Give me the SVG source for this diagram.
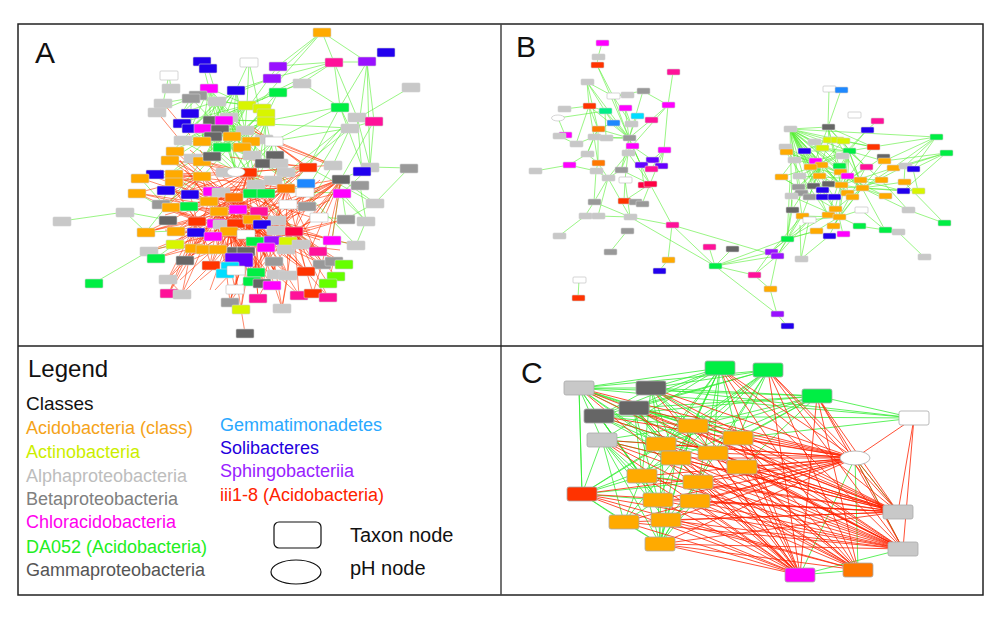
<svg xmlns="http://www.w3.org/2000/svg" xmlns:xlink="http://www.w3.org/1999/xlink" width="1000" height="621" viewBox="0 0 1000 621">
<style>
.or{fill:#FFAA00}.yl{fill:#D8F500}.lg{fill:#C8C8C8}.gy{fill:#999}.mg{fill:#FF00FF}.pk{fill:#FF1199}.gn{fill:#00EE44}.dg{fill:#666}.az{fill:#1E88FF}.cy{fill:#00DDFF}.bl{fill:#2200EE}.pu{fill:#9911FF}.rd{fill:#FF3300}.rs{fill:#FF0044}.do{fill:#FF7700}.lm{fill:#66FF00}.wh{fill:#fff}.tl{fill:#00EE88}.vi{fill:#6600FF}
.nd use,.nd ellipse{stroke:#d2d2d2;stroke-width:.6}
.c use,.c ellipse{stroke:#aaa;stroke-width:.8}
.nd .wh use,.nd .wh ellipse{stroke:#bbb}
.eg{fill:none;stroke:#55EE33;stroke-width:.6}
.er{fill:none;stroke:#FF3300;stroke-width:.65;stroke-opacity:.9}
.ecg{fill:none;stroke:#33EE33;stroke-width:.8}
.ecr{fill:none;stroke:#FF2200;stroke-width:.8}
text{font-family:"Liberation Sans",Arial,sans-serif}
.lt{font-size:18px}
.pl{font-size:30px;fill:#111}
</style>
<defs>
<rect id="na" width="18" height="9" rx="1"/>
<rect id="nb" width="13" height="6" rx="1"/>
<rect id="nc" width="30" height="14" rx="2"/>
</defs>
<rect x="0" y="0" width="1000" height="621" fill="#fff"/>

<g id="connectors">
<path class="eg" d="M322 32L278 66M322 32L272 78M322 32L334 62M322 32L367 62M322 32L262 100M334 62L367 62M334 62L340 107M334 62L302 83M334 62L278 66M334 62L272 78M334 62L247 105M334 62L357 117M367 62L340 107M367 62L360 117M367 62L374 121M367 62L370 167M411 87L360 117M340 107L302 83M340 107L350 128M340 107L274 141M340 107L266 121M340 107L362 167M340 107L308 167M357 117L370 167M357 117L362 171M374 121L350 128M374 121L341 179M374 121L370 167M350 128L333 165M350 128L274 141M350 128L266 124M345 126L290 170M348 130L295 172M370 167L409 168M370 167L341 179M370 167L342 193M409 168L375 203M341 179L319 217M342 193L346 219M360 185L366 221M341 179L332 240M333 165L307 206M305 192L356 245M375 203L346 219M333 189L366 221M308 167L366 199M305 192L342 193M319 217L346 219M342 193L366 221M356 245L366 221M341 179L375 203M332 240L356 245M302 83L278 92M302 83L247 105M249 62L236 90M249 62L247 105M249 62L262 121M278 66L250 105M272 78L217 101M272 78L236 90M278 92L266 117M278 92L250 105M278 92L245 130M169 75L171 88M169 75L163 103M202 61L209 88M208 68L215 90M62 221L125 212M125 212L168 220M125 212L146 232M94 283L149 251M149 251L175 244M156 258L175 244M137 193L161 207M140 178L166 207M131 178L170 174M146 232L176 231M161 207L170 182M245 130L209 88M245 130L236 90M245 130L217 101M245 130L247 105M245 130L262 113M245 130L266 121M245 130L229 120M245 130L212 120M245 130L220 129M245 130L202 136M245 130L232 136M245 130L251 141M245 130L222 147M245 130L242 147M245 130L252 155M245 130L274 141M245 130L264 163M245 130L212 157M245 130L183 141M245 130L175 124M247 105L209 88M247 105L217 101M247 105L229 120M247 105L212 120M247 105L220 129M247 105L232 136M247 105L222 147M247 105L202 136M247 105L183 141M247 105L194 128M247 105L175 124M247 105L191 98M209 88L229 117M209 88L232 136M209 88L222 147M209 88L182 113M209 88L191 128M209 88L203 128M209 88L212 157M217 101L182 113M217 101L191 128M217 101L220 129M217 101L202 136M217 101L242 147M217 101L252 155M217 101L174 150M236 90L212 120M236 90L220 129M236 90L202 136M236 90L232 136M236 90L242 147M236 90L191 128M266 121L229 120M266 121L232 136M266 121L222 147M266 121L242 147M266 121L252 155M266 121L264 163M266 121L212 120M266 121L245 172M266 121L279 180M191 98L163 103M191 98L157 112M191 98L182 113M191 98L191 128M191 98L212 120M229 120L212 157M229 120L236 172M229 120L252 155M229 120L264 163M229 120L202 161M229 120L183 141M274 141L236 172M274 141L248 172M274 141L264 163M274 141L256 184M274 141L286 188M274 141L222 147M220 129L202 161M220 129L174 150M220 129L183 141M220 129L170 160M220 129L212 157M220 129L236 172M256 184L229 120M256 184L245 130M256 184L220 129M256 184L266 121M256 184L212 120M256 184L202 136M236 172L209 88M236 172L217 101M236 172L262 113M236 172L183 141M236 172L191 128M212 157L262 113M212 157L266 121M202 161L247 105M264 163L202 136M264 163L191 128M283 177L232 136M283 177L212 120M300 192L229 120M300 192L252 155M170 174L245 130M170 174L229 120M166 207L212 157M146 232L202 161M190 190L245 130M212 222L256 184M318 251L264 200M305 192L343 130M296 180L341 128"/>
<path class="er" d="M248 172L170 160M248 172L202 161M248 172L170 174M248 172L202 176M248 172L190 190M248 172L212 191M248 172L220 192M248 172L256 184M248 172L273 180M248 172L286 188M248 172L234 197M248 172L219 211M248 172L238 209M248 172L259 211M248 172L277 220M248 172L197 221M248 172L236 223M248 172L252 219M248 172L229 231M248 172L294 231M248 172L273 241M248 172L246 250M248 172L212 222M248 172L308 167M248 172L333 165M234 197L166 207M234 197L170 174M234 197L189 206M234 197L197 221M234 197L176 231M234 197L196 232M234 197L213 236M234 197L246 250M234 197L236 251M234 197L266 247M234 197L273 241M234 197L286 241M234 197L301 244M234 197L318 251M234 197L276 230M234 197L294 231M234 197L234 260M234 197L225 266M234 197L211 265M234 197L185 260M234 197L256 272M234 197L264 283M234 197L276 274M234 197L230 270M219 211L146 232M219 211L137 193M219 211L161 207M219 211L175 244M219 211L194 248M219 211L218 249M219 211L236 251M219 211L256 241M219 211L273 241M219 211L294 231M219 211L306 271M219 211L288 275M219 211L256 272M219 211L262 287M219 211L272 285M219 211L235 289M219 211L230 302M219 211L210 266M219 211L185 260M219 211L168 279M219 211L169 293M219 211L182 294M294 231L236 172M294 231L252 193M294 231L266 193M294 231L305 192M294 231L307 206M294 231L319 217M294 231L346 219M294 231L332 240M294 231L356 245M294 231L318 251M294 231L322 264M294 231L334 261M294 231L344 264M294 231L336 276M294 231L328 283M294 231L313 293M294 231L328 297M294 231L299 295M294 231L258 298M294 231L282 308M294 231L246 250M294 231L236 251M294 231L256 272M341 179L290 205M341 179L280 220M341 179L260 210M341 179L300 230M341 179L252 219M341 179L270 230M341 179L245 240M341 179L290 250M341 179L310 250M341 179L286 188M341 179L305 192M341 179L307 206M341 179L319 217M341 179L332 240M341 179L322 264M341 179L276 230M308 167L253 130M308 167L270 140M308 167L230 157M308 167L264 163M308 167L286 172M308 167L279 180M308 167L264 200M308 167L252 219M333 165L270 140M333 165L255 132M197 221L146 232M197 221L176 231M197 221L175 244M197 221L194 248M197 221L209 250M197 221L185 260M197 221L168 279M197 221L182 294M197 221L169 293M197 221L211 265M197 221L160 207M197 221L137 193M197 221L170 182M197 221L174 190M197 221L190 194M252 219L213 236M252 219L236 251M252 219L266 247M252 219L255 241M252 219L288 249M252 219L301 244M252 219L318 251M252 219L230 270M252 219L225 266M252 219L256 272M252 219L262 287M252 219L276 274M252 219L288 275M252 219L306 271M252 219L258 298M252 219L241 309M252 219L235 289M252 219L230 302M252 219L282 308M252 219L299 295M229 231L166 207M229 231L156 258M229 231L149 251M229 231L176 231M229 231L185 260M229 231L211 265M229 231L225 266M229 231L234 260M229 231L256 272M229 231L252 281M229 231L262 287M229 231L241 309M202 176L170 160M202 176L174 150M202 176L170 174M202 176L140 178M202 176L137 193M202 176L174 190M202 176L166 207M202 176L161 207M202 176L190 194M202 176L212 191M202 176L209 201M209 201L170 182M209 201L140 178M209 201L161 207M209 201L146 232M209 201L166 207M209 201L194 248M209 201L218 249M209 201L176 231M241 309L245 333M169 293L185 260M182 294L211 265M182 294L168 279M282 308L288 275M282 308L274 261M328 297L306 271M299 295L276 274M313 293L322 264M258 298L256 272M328 283L334 261M149 251L196 232M156 258L194 248M175 158L300 250M160 170L320 220M180 150L290 260M200 150L280 280M265 141L330 165M253 127L300 163M290 205L350 190M300 230L345 181M175 200L305 250M185 170L270 275M157 112L180 140M163 103L190 135M286 188L202 161M286 188L170 174M286 188L190 190M286 188L212 191M286 188L219 211M286 188L238 209M286 188L259 211M286 188L277 220M286 188L197 221M286 188L236 223M286 188L229 231M286 188L273 241M286 188L246 250M286 188L256 272M286 188L236 251M286 188L306 271M286 188L322 264M286 188L288 275M259 211L170 174M259 211L190 190M259 211L202 176M259 211L166 207M259 211L176 231M259 211L196 232M259 211L213 236M259 211L236 251M259 211L256 272M259 211L288 249M259 211L301 244M259 211L318 251M259 211L306 271M259 211L276 274M259 211L262 287M259 211L230 302M259 211L241 309M259 211L185 260M259 211L211 265M212 191L248 172M212 191L273 180M212 191L286 188M212 191L277 220M212 191L273 241M212 191L288 249M212 191L256 272M212 191L230 270M212 191L225 266M212 191L246 250M212 191L266 247M273 241L170 174M273 241L202 176M273 241L190 190M273 241L166 207M273 241L176 231M273 241L160 207M273 241L305 192M273 241L319 217M273 241L346 219M273 241L322 264M273 241L306 271M273 241L288 275M273 241L256 272M273 241L262 287M273 241L230 302M238 209L150 175M238 209L170 160M238 209L137 193M238 209L146 232M238 209L175 244M238 209L185 260M238 209L168 279M238 209L262 287M238 209L276 274M238 209L306 271M238 209L322 264M238 209L332 240M238 209L344 264M238 209L318 251M238 209L301 244M180 160L250 260M190 150L300 240M170 190L320 240M165 215L300 175M175 250L290 170M180 265L330 200M200 280L320 180M215 290L300 200M165 230L340 250M260 150L210 290M280 160L230 300M300 170L180 280M320 190L200 240M310 230L170 190"/>
<path class="eg" d="M602 43L598 57M597 65L613 96M597 65L629 138M587 82L613 96M587 82L589 106M587 82L605 111M587 82L629 138M587 82L598 129M613 96L627 95M613 96L643 91M613 96L629 138M613 96L631 124M643 91L668 105M643 91L629 138M673 72L668 105M668 105L664 150M668 105L632 146M668 105L651 120M651 120L629 138M564 109L589 106M558 118L605 111M558 118L565 135M589 106L605 111M589 106L598 129M589 106L576 144M589 106L629 138M589 106L594 137M605 111L613 123M605 111L629 138M605 111L606 138M625 108L629 138M625 108L631 124M637 116L629 138M613 123L629 138M613 123L598 129M598 129L594 137M598 129L629 138M598 129L598 163M598 129L587 154M594 137L629 138M594 137L598 163M594 137L587 154M594 137L576 144M629 138L632 146M629 138L628 153M629 138L606 138M629 138L621 170M629 138L641 165M632 146L628 153M632 146L641 165M632 146L661 166M632 146L650 184M664 150L652 160M664 150L661 166M664 150L651 169M664 150L650 184M628 153L608 178M628 153L621 170M628 153L625 180M628 153L650 184M569 165L535 171M569 165L587 154M569 165L596 171M598 163L596 171M598 163L608 178M598 163L587 154M596 171L608 178M596 171L594 202M608 178L594 202M608 178L598 216M608 178L630 217M608 178L621 170M625 180L624 201M625 180L630 217M650 184L624 201M650 184L672 225M650 184L642 204M594 202L585 216M594 202L630 217M598 216L630 217M630 217L672 225M630 217L715 266M627 231L610 252M585 216L559 236M672 225L668 260M672 225L715 266M672 225L777 256M668 260L659 271M579 280L578 298M559 136L576 144M621 170L650 184M641 165L644 185M598 57L597 65M715 266L709 247M715 266L732 249M715 266L771 252M715 266L777 256M715 266L754 275M715 266L777 314M715 266L787 239M754 275L771 252M754 275L770 289M754 275L777 256M771 252L787 239M777 256L787 239M770 289L777 314M770 289L777 256M777 314L787 326M787 239L792 200M787 239L800 215M787 239L790 180M777 256L802 216M771 252L809 220M801 259L800 225M787 239L816 231M790 129L828 127M790 129L829 140M790 129L814 142M790 129L804 151M790 129L822 148M790 129L842 156M790 129L815 161M790 129L821 165M790 129L810 167M790 129L840 172M790 129L819 176M790 129L828 184M790 129L813 186M790 129L822 190M790 129L841 185M790 129L862 188M790 129L822 197M790 129L834 197M790 129L809 197M790 129L801 193M790 129L847 193M790 129L852 197M790 129L835 209M790 129L828 215M790 129L802 216M790 129L792 210M790 129L873 147M790 129L936 137M790 129L849 151M790 129L839 166M828 127L829 89M828 127L849 151M828 127L873 147M828 127L866 167M828 127L839 166M828 127L829 140M828 127L815 161M841 90L828 127M936 137L905 166M936 137L893 168M936 137L873 147M936 137L884 161M936 137L913 169M946 153L905 166M946 153L913 169M946 153L893 168M946 153L903 191M946 153L884 161M849 151L822 148M849 151L815 161M849 151L821 165M849 151L810 167M849 151L840 172M849 151L860 180M849 151L881 180M849 151L866 167M849 151L884 161M849 151L873 147M849 151L847 193M849 151L862 188M849 151L835 209M849 151L839 217M849 151L828 215M849 151L822 197M849 151L843 141M849 151L804 151M862 188L893 168M862 188L904 182M862 188L903 191M862 188L918 191M862 188L885 196M862 188L881 180M862 188L860 180M862 188L847 176M862 188L841 185M862 188L813 186M862 188L834 197M862 188L852 197M862 188L828 215M862 188L839 217M862 188L833 226M862 188L908 210M862 188L905 166M862 188L884 161M821 165L794 160M821 165L799 176M821 165L781 177M821 165L785 147M821 165L798 187M821 165L801 193M821 165L791 196M821 165L809 197M821 165L792 210M821 165L802 216M821 165L819 176M821 165L828 184M821 165L786 152M821 165L814 142M821 165L829 140M821 165L843 141M839 217L816 231M839 217L829 236M839 217L843 234M839 217L859 226M839 217L809 220M839 217L802 216M839 217L833 226M839 217L861 210M839 217L822 190M839 217L841 185M839 217L866 167M841 185L873 147M841 185L883 157M841 185L893 168M841 185L866 167M841 185L804 151M841 185L785 147M841 185L828 127M898 232L924 257M885 230L862 188M908 210L881 180M944 223L904 182M944 223L908 210M859 226L898 232M861 210L885 230M913 169L918 191M905 166L904 182M877 121L867 130M867 130L849 151M867 130L842 156M829 140L804 151M837 140L860 180M843 141L873 147M781 177L794 160M781 177L798 187M785 147L794 160M822 148L862 188M815 161L885 196M810 167L852 197M810 167L903 191M786 152L847 176M799 176L881 180M804 151L862 188M786 152L828 215M781 177L835 209M791 196L839 217M792 210L787 239M802 216L771 252M809 220L777 256M816 231L787 239M801 259L809 220M828 215L787 239M829 236L801 259"/>
<path class="ecg" d="M579 388L651 388M579 388L720 368M579 388L817 396M579 388L914 418M579 388L634 408M579 388L693 426M579 388L661 444M579 388L676 458M579 388L642 476M579 388L582 494M579 388L738 438M579 388L602 440M579 388L713 453M579 388L658 500M651 388L720 368M651 388L768 370M651 388L693 426M651 388L661 444M651 388L713 453M651 388L738 438M651 388L817 396M651 388L914 418M651 388L676 458M651 388L642 476M651 388L599 416M720 368L634 408M720 368L693 426M720 368L661 444M720 368L676 458M720 368L642 476M720 368L599 416M720 368L738 438M720 368L713 453M720 368L602 440M720 368L658 500M720 368L695 501M768 370L693 426M768 370L661 444M768 370L676 458M768 370L634 408M768 370L713 453M768 370L579 388M768 370L738 438M768 370L642 476M768 370L599 416M768 370L698 482M817 396L693 426M817 396L738 438M817 396L634 408M817 396L661 444M817 396L914 418M817 396L599 416M817 396L713 453M817 396L676 458M817 396L742 467M634 408L693 426M634 408L661 444M634 408L676 458M634 408L642 476M634 408L698 482M634 408L738 438M634 408L713 453M634 408L658 500M599 416L661 444M599 416L676 458M599 416L642 476M599 416L693 426M599 416L914 418M599 416L713 453M599 416L658 500M602 440L661 444M602 440L642 476M602 440L582 494M602 440L624 522M602 440L658 500M602 440L676 458M602 440L660 544M602 440L693 426M602 440L666 520M582 494L642 476M582 494L661 444M582 494L676 458M582 494L658 500M582 494L693 426M582 494L660 544M582 494L624 522M582 494L698 482M579 388L582 494M660 544L658 500M660 544L695 501M660 544L698 482M660 544L642 476M660 544L676 458M660 544L661 444M660 544L624 522M660 544L666 520M660 544L713 453M660 544L693 426M624 522L642 476M624 522L658 500M624 522L676 458M666 520L698 482M666 520L695 501M666 520L661 444M666 520L693 426M661 444L693 426M661 444L676 458M661 444L713 453M642 476L676 458M642 476L658 500M642 476L698 482M914 418L738 438M855 458L898 512M855 458L800 575M855 458L903 549M855 458L858 570M800 575L858 570M800 575L903 549"/>
<path class="ecr" d="M855 458L579 388M855 458L651 388M855 458L634 408M855 458L599 416M855 458L602 440M855 458L720 368M855 458L768 370M855 458L817 396M855 458L693 426M855 458L738 438M855 458L661 444M855 458L713 453M855 458L676 458M855 458L742 467M855 458L642 476M855 458L698 482M855 458L658 500M855 458L695 501M855 458L624 522M855 458L666 520M855 458L660 544M855 458L582 494M855 458L914 418M898 512L579 388M898 512L651 388M898 512L634 408M898 512L599 416M898 512L602 440M898 512L720 368M898 512L768 370M898 512L817 396M898 512L693 426M898 512L738 438M898 512L661 444M898 512L713 453M898 512L676 458M898 512L742 467M898 512L642 476M898 512L698 482M898 512L658 500M898 512L695 501M898 512L624 522M898 512L666 520M898 512L660 544M898 512L582 494M898 512L914 418M898 512L855 458M903 549L579 388M903 549L651 388M903 549L634 408M903 549L602 440M903 549L720 368M903 549L768 370M903 549L817 396M903 549L693 426M903 549L738 438M903 549L661 444M903 549L713 453M903 549L676 458M903 549L742 467M903 549L642 476M903 549L698 482M903 549L658 500M903 549L695 501M903 549L624 522M903 549L666 520M903 549L660 544M903 549L582 494M903 549L914 418M903 549L855 458M800 575L651 388M800 575L602 440M800 575L720 368M800 575L768 370M800 575L817 396M800 575L693 426M800 575L738 438M800 575L661 444M800 575L713 453M800 575L676 458M800 575L742 467M800 575L642 476M800 575L698 482M800 575L658 500M800 575L695 501M800 575L624 522M800 575L666 520M800 575L660 544M800 575L582 494M800 575L579 388M800 575L634 408M858 570L720 368M858 570L768 370M858 570L817 396M858 570L693 426M858 570L738 438M858 570L661 444M858 570L713 453M858 570L676 458M858 570L742 467M858 570L698 482M858 570L695 501M858 570L666 520M858 570L660 544M858 570L582 494M858 570L602 440"/>
</g>

<g id="panelA-nodes" class="nd">
<g id="a1" class="or"><use href="#na" x="313" y="28"/></g>
<g id="a2" class="bl"><use href="#na" x="377" y="48"/></g>
<g id="a3" class="pk"><use href="#na" x="325" y="58"/></g>
<g id="a4" class="pu"><use href="#na" x="358" y="57"/></g>
<g id="a5" class="bl"><use href="#na" x="193" y="57"/></g>
<g id="a6" class="bl"><use href="#na" x="199" y="64"/></g>
<g id="a7" class="wh"><use href="#na" x="240" y="58"/></g>
<g id="a8" class="pu"><use href="#na" x="269" y="62"/></g>
<g id="a9" class="wh"><use href="#na" x="160" y="71"/></g>
<g id="a10" class="pu"><use href="#na" x="263" y="74"/></g>
<g id="a11" class="lg"><use href="#na" x="293" y="79"/></g>
<g id="a12" class="lg"><use href="#na" x="402" y="83"/></g>
<g id="a13" class="lg"><use href="#na" x="162" y="84"/></g>
<g id="a14" class="mg"><use href="#na" x="200" y="84"/></g>
<g id="a15" class="gy"><use href="#na" x="189" y="91"/></g>
<g id="a16" class="gy"><use href="#na" x="182" y="94"/></g>
<g id="a17" class="bl"><use href="#na" x="227" y="86"/></g>
<g id="a18" class="gn"><use href="#na" x="269" y="88"/></g>
<g id="a19" class="lg"><use href="#na" x="154" y="99"/></g>
<g id="a20" class="lg"><use href="#na" x="148" y="108"/></g>
<g id="a21" class="lg"><use href="#na" x="208" y="97"/></g>
<g id="a22" class="yl"><use href="#na" x="238" y="101"/></g>
<g id="a23" class="yl"><use href="#na" x="253" y="104"/></g>
<g id="a24" class="yl"><use href="#na" x="257" y="109"/></g>
<g id="a25" class="yl"><use href="#na" x="257" y="117"/></g>
<g id="a26" class="gn"><use href="#na" x="331" y="103"/></g>
<g id="a27" class="bl"><use href="#na" x="181" y="109"/></g>
<g id="a28" class="lg"><use href="#na" x="348" y="113"/></g>
<g id="a29" class="pk"><use href="#na" x="365" y="117"/></g>
<g id="a30" class="lg"><use href="#na" x="220" y="113"/></g>
<g id="a31" class="dg"><use href="#na" x="203" y="116"/></g>
<g id="a32" class="mg"><use href="#na" x="215" y="116"/></g>
<g id="a33" class="bl"><use href="#na" x="173" y="119"/></g>
<g id="a34" class="bl"><use href="#na" x="182" y="124"/></g>
<g id="a35" class="mg"><use href="#na" x="194" y="124"/></g>
<g id="a36" class="dg"><use href="#na" x="211" y="125"/></g>
<g id="a37" class="dg"><use href="#na" x="204" y="132"/></g>
<g id="a38" class="lg"><use href="#na" x="236" y="126"/></g>
<g id="a39" class="lg"><use href="#na" x="341" y="124"/></g>
<g id="a40" class="or"><use href="#na" x="223" y="132"/></g>
<g id="a41" class="lg"><use href="#na" x="174" y="136"/></g>
<g id="a42" class="or"><use href="#na" x="193" y="137"/></g>
<g id="a43" class="lg"><use href="#na" x="255" y="135"/></g>
<g id="a44" class="wh"><use href="#na" x="265" y="137"/></g>
<g id="a45" class="or"><use href="#na" x="242" y="137"/></g>
<g id="a46" class="gn"><use href="#na" x="213" y="143"/></g>
<g id="a47" class="or"><use href="#na" x="166" y="147"/></g>
<g id="a48" class="or"><use href="#na" x="233" y="143"/></g>
<g id="a49" class="lg"><use href="#na" x="243" y="151"/></g>
<g id="a50" class="dg"><use href="#na" x="266" y="151"/></g>
<g id="a51" class="or"><use href="#na" x="161" y="156"/></g>
<g id="a52" class="lg"><use href="#na" x="184" y="154"/></g>
<g id="a53" class="or"><use href="#na" x="193" y="157"/></g>
<g id="a54" class="dg"><use href="#na" x="203" y="152"/></g>
<g id="a55" class="dg"><use href="#na" x="255" y="159"/></g>
<g id="a56" class="lg"><use href="#na" x="270" y="159"/></g>
<g id="a57" class="rd"><use href="#na" x="299" y="163"/></g>
<g id="a58" class="lg"><use href="#na" x="324" y="161"/></g>
<g id="a59" class="lg"><use href="#na" x="361" y="163"/></g>
<g id="a60" class="bl"><use href="#na" x="353" y="167"/></g>
<g id="a61" class="gy"><use href="#na" x="400" y="164"/></g>
<g id="a62" class="bl"><use href="#na" x="146" y="170"/></g>
<g id="a63" class="or"><use href="#na" x="165" y="170"/></g>
<g id="a64" class="or"><use href="#na" x="193" y="172"/></g>
<g id="a65" class="lg"><use href="#na" x="216" y="168"/></g>
<g id="a67" class="rd"><use href="#na" x="239" y="168"/></g>
<g id="a66" class="wh"><ellipse cx="236" cy="172" rx="9" ry="4.5"/></g>
<g id="a68" class="lg"><use href="#na" x="277" y="168"/></g>
<g id="a69" class="az"><use href="#na" x="297" y="179"/></g>
<g id="a70" class="dg"><use href="#na" x="332" y="175"/></g>
<g id="a71" class="gy"><use href="#na" x="351" y="181"/></g>
<g id="a72" class="or"><use href="#na" x="131" y="174"/></g>
<g id="a73" class="or"><use href="#na" x="165" y="178"/></g>
<g id="a74" class="lg"><use href="#na" x="247" y="180"/></g>
<g id="a75" class="lg"><use href="#na" x="264" y="176"/></g>
<g id="a76" class="do"><use href="#na" x="277" y="184"/></g>
<g id="a77" class="bl"><use href="#na" x="157" y="186"/></g>
<g id="a78" class="bl"><use href="#na" x="181" y="190"/></g>
<g id="a79" class="mg"><use href="#na" x="203" y="187"/></g>
<g id="a80" class="lg"><use href="#na" x="212" y="188"/></g>
<g id="a81" class="gn"><use href="#na" x="243" y="189"/></g>
<g id="a82" class="gn"><use href="#na" x="257" y="189"/></g>
<g id="a83" class="wh"><use href="#na" x="296" y="188"/></g>
<g id="a84" class="mg"><use href="#na" x="333" y="189"/></g>
<g id="a85" class="or"><use href="#na" x="128" y="189"/></g>
<g id="a86" class="do"><use href="#na" x="225" y="193"/></g>
<g id="a87" class="or"><use href="#na" x="200" y="197"/></g>
<g id="a88" class="lg"><use href="#na" x="366" y="199"/></g>
<g id="a89" class="gy"><use href="#na" x="152" y="200"/></g>
<g id="a90" class="or"><use href="#na" x="162" y="203"/></g>
<g id="a91" class="gn"><use href="#na" x="180" y="202"/></g>
<g id="a92" class="or"><use href="#na" x="210" y="207"/></g>
<g id="a93" class="mg"><use href="#na" x="229" y="205"/></g>
<g id="a94" class="pk"><use href="#na" x="250" y="207"/></g>
<g id="a95" class="wh"><use href="#na" x="279" y="200"/></g>
<g id="a96" class="gy"><use href="#na" x="298" y="202"/></g>
<g id="a97" class="lg"><use href="#na" x="116" y="208"/></g>
<g id="a98" class="lg"><use href="#na" x="53" y="217"/></g>
<g id="a99" class="dg"><use href="#na" x="159" y="216"/></g>
<g id="a100" class="rd"><use href="#na" x="188" y="217"/></g>
<g id="a101" class="mg"><use href="#na" x="207" y="219"/></g>
<g id="a102" class="lg"><use href="#na" x="213" y="220"/></g>
<g id="a103" class="rd"><use href="#na" x="227" y="219"/></g>
<g id="a104" class="or"><use href="#na" x="243" y="215"/></g>
<g id="a105" class="lg"><use href="#na" x="268" y="216"/></g>
<g id="a106" class="wh"><use href="#na" x="310" y="213"/></g>
<g id="a107" class="gy"><use href="#na" x="337" y="215"/></g>
<g id="a108" class="lg"><use href="#na" x="357" y="217"/></g>
<g id="a109" class="bl"><use href="#na" x="253" y="220"/></g>
<g id="a110" class="or"><use href="#na" x="137" y="228"/></g>
<g id="a111" class="or"><use href="#na" x="167" y="227"/></g>
<g id="a112" class="bl"><use href="#na" x="187" y="228"/></g>
<g id="a113" class="or"><use href="#na" x="220" y="227"/></g>
<g id="a114" class="lg"><use href="#na" x="267" y="226"/></g>
<g id="a115" class="rs"><use href="#na" x="285" y="227"/></g>
<g id="a116" class="wh"><use href="#na" x="237" y="230"/></g>
<g id="a117" class="mg"><use href="#na" x="204" y="232"/></g>
<g id="a118" class="mg"><use href="#na" x="323" y="236"/></g>
<g id="a119" class="lg"><use href="#na" x="347" y="241"/></g>
<g id="a120" class="yl"><use href="#na" x="166" y="240"/></g>
<g id="a121" class="lg"><use href="#na" x="140" y="247"/></g>
<g id="a122" class="or"><use href="#na" x="185" y="244"/></g>
<g id="a123" class="or"><use href="#na" x="196" y="245"/></g>
<g id="a124" class="or"><use href="#na" x="209" y="245"/></g>
<g id="a125" class="dg"><use href="#na" x="227" y="247"/></g>
<g id="a126" class="dg"><use href="#na" x="237" y="247"/></g>
<g id="a127" class="gn"><use href="#na" x="246" y="237"/></g>
<g id="a128" class="pu"><use href="#na" x="264" y="236"/></g>
<g id="a129" class="yl"><use href="#na" x="279" y="237"/></g>
<g id="a130" class="mg"><use href="#na" x="257" y="243"/></g>
<g id="a131" class="lg"><use href="#na" x="277" y="245"/></g>
<g id="a132" class="lg"><use href="#na" x="292" y="240"/></g>
<g id="a133" class="pk"><use href="#na" x="309" y="247"/></g>
<g id="a134" class="gn"><use href="#na" x="147" y="254"/></g>
<g id="a135" class="vi"><rect x="225" y="253" width="28" height="14" rx="1" stroke="#d2d2d2" stroke-width=".6"/></g>
<g id="a136" class="dg"><use href="#na" x="176" y="256"/></g>
<g id="a137" class="rd"><use href="#na" x="202" y="261"/></g>
<g id="a138" class="gy"><use href="#na" x="265" y="257"/></g>
<g id="a139" class="gy"><use href="#na" x="313" y="260"/></g>
<g id="a140" class="gy"><use href="#na" x="325" y="257"/></g>
<g id="a141" class="lm"><use href="#na" x="335" y="260"/></g>
<g id="a142" class="cy"><use href="#na" x="221" y="262"/></g>
<g id="a143" class="cy"><use href="#na" x="216" y="269"/></g>
<g id="a144" class="wh"><use href="#na" x="227" y="266"/></g>
<g id="a145" class="gn"><use href="#na" x="247" y="268"/></g>
<g id="a146" class="lg"><use href="#na" x="267" y="270"/></g>
<g id="a147" class="lg"><use href="#na" x="279" y="271"/></g>
<g id="a148" class="rd"><use href="#na" x="297" y="267"/></g>
<g id="a149" class="lm"><use href="#na" x="327" y="272"/></g>
<g id="a150" class="lm"><use href="#na" x="319" y="279"/></g>
<g id="a151" class="lg"><use href="#na" x="159" y="275"/></g>
<g id="a152" class="gn"><use href="#na" x="85" y="279"/></g>
<g id="a153" class="gn"><use href="#na" x="243" y="277"/></g>
<g id="a154" class="dg"><use href="#na" x="253" y="279"/></g>
<g id="a155" class="mg"><use href="#na" x="263" y="281"/></g>
<g id="a156" class="wh"><use href="#na" x="226" y="285"/></g>
<g id="a157" class="pk"><use href="#na" x="160" y="289"/></g>
<g id="a158" class="lg"><use href="#na" x="173" y="290"/></g>
<g id="a159" class="pk"><use href="#na" x="249" y="294"/></g>
<g id="a160" class="pk"><use href="#na" x="290" y="291"/></g>
<g id="a161" class="rd"><use href="#na" x="304" y="289"/></g>
<g id="a162" class="pk"><use href="#na" x="319" y="293"/></g>
<g id="a163" class="gy"><use href="#na" x="221" y="298"/></g>
<g id="a164" class="yl"><use href="#na" x="232" y="305"/></g>
<g id="a165" class="lg"><use href="#na" x="273" y="304"/></g>
<g id="a166" class="dg"><use href="#na" x="236" y="329"/></g>
</g>

<g id="panelB-nodes" class="nd">
<g id="b1" class="mg"><use href="#nb" x="596" y="40"/></g>
<g id="b2" class="lg"><use href="#nb" x="592" y="54"/></g>
<g id="b3" class="rd"><use href="#nb" x="591" y="62"/></g>
<g id="b4" class="pk"><use href="#nb" x="667" y="69"/></g>
<g id="b5" class="lg"><use href="#nb" x="581" y="79"/></g>
<g id="b6" class="wh"><use href="#nb" x="607" y="93"/></g>
<g id="b7" class="lg"><use href="#nb" x="621" y="92"/></g>
<g id="b8" class="gy"><use href="#nb" x="637" y="88"/></g>
<g id="b9" class="mg"><use href="#nb" x="662" y="102"/></g>
<g id="b10" class="lg"><use href="#nb" x="558" y="106"/></g>
<g id="b11" class="rd"><use href="#nb" x="583" y="103"/></g>
<g id="b12" class="tl"><use href="#nb" x="599" y="108"/></g>
<g id="b13" class="mg"><use href="#nb" x="619" y="105"/></g>
<g id="b14" class="cy"><use href="#nb" x="631" y="113"/></g>
<g id="b15" class="pk"><use href="#nb" x="645" y="117"/></g>
<g id="b16" class="wh"><ellipse cx="558" cy="118" rx="6.5" ry="3"/></g>
<g id="b17" class="az"><use href="#nb" x="607" y="120"/></g>
<g id="b18" class="lg"><use href="#nb" x="625" y="121"/></g>
<g id="b19" class="do"><use href="#nb" x="592" y="126"/></g>
<g id="b20" class="mg"><use href="#nb" x="559" y="132"/></g>
<g id="b21" class="lg"><use href="#nb" x="553" y="133"/></g>
<g id="b22" class="lg"><use href="#nb" x="588" y="134"/></g>
<g id="b23" class="lg"><use href="#nb" x="600" y="135"/></g>
<g id="b24" class="gy"><use href="#nb" x="623" y="135"/></g>
<g id="b25" class="lg"><use href="#nb" x="570" y="141"/></g>
<g id="b26" class="mg"><use href="#nb" x="626" y="143"/></g>
<g id="b27" class="mg"><use href="#nb" x="658" y="147"/></g>
<g id="b28" class="lg"><use href="#nb" x="581" y="151"/></g>
<g id="b29" class="lg"><use href="#nb" x="622" y="150"/></g>
<g id="b30" class="vi"><use href="#nb" x="646" y="157"/></g>
<g id="b31" class="vi"><use href="#nb" x="635" y="162"/></g>
<g id="b32" class="vi"><use href="#nb" x="655" y="163"/></g>
<g id="b33" class="pk"><use href="#nb" x="645" y="166"/></g>
<g id="b34" class="mg"><use href="#nb" x="563" y="162"/></g>
<g id="b35" class="do"><use href="#nb" x="592" y="160"/></g>
<g id="b36" class="lg"><use href="#nb" x="529" y="168"/></g>
<g id="b37" class="lg"><use href="#nb" x="590" y="168"/></g>
<g id="b38" class="gy"><use href="#nb" x="615" y="167"/></g>
<g id="b39" class="lg"><use href="#nb" x="602" y="175"/></g>
<g id="b40" class="wh"><use href="#nb" x="619" y="177"/></g>
<g id="b41" class="rs"><use href="#nb" x="638" y="182"/></g>
<g id="b42" class="rs"><use href="#nb" x="644" y="181"/></g>
<g id="b43" class="gy"><use href="#nb" x="588" y="199"/></g>
<g id="b44" class="rd"><use href="#nb" x="618" y="198"/></g>
<g id="b45" class="gy"><use href="#nb" x="629" y="199"/></g>
<g id="b46" class="gy"><use href="#nb" x="636" y="201"/></g>
<g id="b47" class="lg"><use href="#nb" x="579" y="213"/></g>
<g id="b48" class="lg"><use href="#nb" x="592" y="213"/></g>
<g id="b49" class="lg"><use href="#nb" x="624" y="214"/></g>
<g id="b50" class="pk"><use href="#nb" x="666" y="222"/></g>
<g id="b51" class="gy"><use href="#nb" x="621" y="228"/></g>
<g id="b52" class="lg"><use href="#nb" x="553" y="233"/></g>
<g id="b53" class="gy"><use href="#nb" x="604" y="249"/></g>
<g id="b54" class="or"><use href="#nb" x="662" y="257"/></g>
<g id="b55" class="bl"><use href="#nb" x="653" y="268"/></g>
<g id="b56" class="wh"><use href="#nb" x="573" y="277"/></g>
<g id="b57" class="rd"><use href="#nb" x="572" y="295"/></g>
<g id="b58" class="pk"><use href="#nb" x="703" y="244"/></g>
<g id="b59" class="dg"><use href="#nb" x="726" y="246"/></g>
<g id="b60" class="gn"><use href="#nb" x="709" y="263"/></g>
<g id="b61" class="pu"><use href="#nb" x="765" y="249"/></g>
<g id="b62" class="pu"><use href="#nb" x="771" y="253"/></g>
<g id="b63" class="pk"><use href="#nb" x="748" y="272"/></g>
<g id="b64" class="or"><use href="#nb" x="764" y="286"/></g>
<g id="b65" class="pu"><use href="#nb" x="771" y="311"/></g>
<g id="b66" class="bl"><use href="#nb" x="781" y="323"/></g>
<g id="b67" class="gn"><use href="#nb" x="781" y="236"/></g>
<g id="b68" class="lg"><use href="#nb" x="795" y="256"/></g>
<g id="r1" class="wh"><use href="#nb" x="823" y="86"/></g>
<g id="r2" class="az"><use href="#nb" x="835" y="87"/></g>
<g id="r72" class="wh"><use href="#nb" x="848" y="112"/></g>
<g id="r3" class="pk"><use href="#nb" x="871" y="118"/></g>
<g id="r4" class="bl"><use href="#nb" x="861" y="127"/></g>
<g id="r5" class="dg"><use href="#nb" x="822" y="124"/></g>
<g id="r6" class="lg"><use href="#nb" x="784" y="126"/></g>
<g id="r7" class="gn"><use href="#nb" x="930" y="134"/></g>
<g id="r8" class="gn"><use href="#nb" x="940" y="150"/></g>
<g id="r9" class="yl"><use href="#nb" x="823" y="137"/></g>
<g id="r10" class="yl"><use href="#nb" x="831" y="137"/></g>
<g id="r11" class="yl"><use href="#nb" x="837" y="138"/></g>
<g id="r12" class="lg"><use href="#nb" x="808" y="139"/></g>
<g id="r13" class="lg"><use href="#nb" x="779" y="144"/></g>
<g id="r14" class="or"><use href="#nb" x="780" y="149"/></g>
<g id="r15" class="bl"><use href="#nb" x="798" y="148"/></g>
<g id="r16" class="yl"><use href="#nb" x="816" y="145"/></g>
<g id="r17" class="gn"><use href="#nb" x="843" y="148"/></g>
<g id="r18" class="rd"><use href="#nb" x="867" y="144"/></g>
<g id="r19" class="lg"><use href="#nb" x="836" y="153"/></g>
<g id="r20" class="lg"><use href="#nb" x="788" y="157"/></g>
<g id="r21" class="mg"><use href="#nb" x="809" y="158"/></g>
<g id="r22" class="or"><use href="#nb" x="815" y="162"/></g>
<g id="r23" class="dg"><use href="#nb" x="877" y="154"/></g>
<g id="r24" class="or"><use href="#nb" x="878" y="158"/></g>
<g id="r25" class="gn"><use href="#nb" x="833" y="163"/></g>
<g id="r26" class="or"><use href="#nb" x="804" y="164"/></g>
<g id="r27" class="pk"><use href="#nb" x="860" y="164"/></g>
<g id="r28" class="or"><use href="#nb" x="887" y="165"/></g>
<g id="r29" class="lg"><use href="#nb" x="899" y="163"/></g>
<g id="r30" class="bl"><use href="#nb" x="907" y="166"/></g>
<g id="r31" class="or"><use href="#nb" x="834" y="169"/></g>
<g id="r32" class="mg"><use href="#nb" x="841" y="173"/></g>
<g id="r33" class="or"><use href="#nb" x="775" y="174"/></g>
<g id="r34" class="lg"><use href="#nb" x="793" y="173"/></g>
<g id="r35" class="or"><use href="#nb" x="813" y="173"/></g>
<g id="r36" class="or"><use href="#nb" x="854" y="177"/></g>
<g id="r37" class="or"><use href="#nb" x="875" y="177"/></g>
<g id="r38" class="or"><use href="#nb" x="898" y="179"/></g>
<g id="r39" class="dg"><use href="#nb" x="822" y="181"/></g>
<g id="r40" class="gy"><use href="#nb" x="792" y="184"/></g>
<g id="r41" class="dg"><use href="#nb" x="807" y="183"/></g>
<g id="r42" class="or"><use href="#nb" x="835" y="182"/></g>
<g id="r43" class="bl"><use href="#nb" x="816" y="187"/></g>
<g id="r44" class="or"><use href="#nb" x="856" y="185"/></g>
<g id="r45" class="bl"><use href="#nb" x="897" y="188"/></g>
<g id="r46" class="yl"><use href="#nb" x="912" y="188"/></g>
<g id="r47" class="gy"><use href="#nb" x="795" y="190"/></g>
<g id="r48" class="lg"><use href="#nb" x="785" y="193"/></g>
<g id="r49" class="gy"><use href="#nb" x="803" y="194"/></g>
<g id="r50" class="bl"><use href="#nb" x="816" y="194"/></g>
<g id="r51" class="bl"><use href="#nb" x="828" y="194"/></g>
<g id="r52" class="or"><use href="#nb" x="841" y="190"/></g>
<g id="r53" class="or"><use href="#nb" x="846" y="194"/></g>
<g id="r54" class="or"><use href="#nb" x="879" y="193"/></g>
<g id="r55" class="dg"><use href="#nb" x="786" y="207"/></g>
<g id="r56" class="or"><use href="#nb" x="796" y="213"/></g>
<g id="r57" class="wh"><use href="#nb" x="803" y="217"/></g>
<g id="r58" class="or"><use href="#nb" x="822" y="212"/></g>
<g id="r59" class="or"><use href="#nb" x="829" y="206"/></g>
<g id="r60" class="or"><use href="#nb" x="833" y="214"/></g>
<g id="r61" class="wh"><use href="#nb" x="855" y="207"/></g>
<g id="r62" class="lg"><use href="#nb" x="902" y="207"/></g>
<g id="r63" class="or"><use href="#nb" x="827" y="223"/></g>
<g id="r64" class="gn"><use href="#nb" x="853" y="223"/></g>
<g id="r65" class="or"><use href="#nb" x="810" y="228"/></g>
<g id="r66" class="mg"><use href="#nb" x="837" y="231"/></g>
<g id="r67" class="bl"><use href="#nb" x="823" y="233"/></g>
<g id="r68" class="gn"><use href="#nb" x="879" y="227"/></g>
<g id="r69" class="lg"><use href="#nb" x="892" y="229"/></g>
<g id="r70" class="gn"><use href="#nb" x="938" y="220"/></g>
<g id="r71" class="lg"><use href="#nb" x="918" y="254"/></g>
</g>

<g id="panelC-nodes" class="c">
<g id="c-lg1" class="lg"><use href="#nc" x="564" y="381"/></g>
<g id="c-dg1" class="dg"><use href="#nc" x="636" y="381"/></g>
<g id="c-gn1" class="gn"><use href="#nc" x="705" y="361"/></g>
<g id="c-gn2" class="gn"><use href="#nc" x="753" y="363"/></g>
<g id="c-gn3" class="gn"><use href="#nc" x="802" y="389"/></g>
<g id="c-dg2" class="dg"><use href="#nc" x="619" y="401"/></g>
<g id="c-dg3" class="dg"><use href="#nc" x="584" y="409"/></g>
<g id="c-lg2" class="lg"><use href="#nc" x="587" y="433"/></g>
<g id="c-wh" class="wh"><use href="#nc" x="899" y="411"/></g>
<g id="c-o1" class="or"><use href="#nc" x="678" y="419"/></g>
<g id="c-o2" class="or"><use href="#nc" x="723" y="431"/></g>
<g id="c-o3" class="or"><use href="#nc" x="646" y="437"/></g>
<g id="c-o4" class="or"><use href="#nc" x="698" y="446"/></g>
<g id="c-o5" class="or"><use href="#nc" x="661" y="451"/></g>
<g id="c-o6" class="or"><use href="#nc" x="727" y="460"/></g>
<g id="c-ph" class="wh"><ellipse cx="855" cy="458" rx="15" ry="7"/></g>
<g id="c-o7" class="or"><use href="#nc" x="627" y="469"/></g>
<g id="c-o8" class="or"><use href="#nc" x="683" y="475"/></g>
<g id="c-rd" class="rd"><use href="#nc" x="567" y="487"/></g>
<g id="c-o9" class="or"><use href="#nc" x="643" y="493"/></g>
<g id="c-o10" class="or"><use href="#nc" x="680" y="494"/></g>
<g id="c-lgr1" class="lg"><use href="#nc" x="883" y="505"/></g>
<g id="c-o11" class="or"><use href="#nc" x="609" y="515"/></g>
<g id="c-o12" class="or"><use href="#nc" x="651" y="513"/></g>
<g id="c-o13" class="or"><use href="#nc" x="645" y="537"/></g>
<g id="c-lgr2" class="lg"><use href="#nc" x="888" y="542"/></g>
<g id="c-mg" class="mg"><use href="#nc" x="785" y="568"/></g>
<g id="c-do" class="do"><use href="#nc" x="843" y="563"/></g>
</g>

<g id="frame" fill="none" stroke="#222" stroke-width="1.5">
<rect x="18" y="24" width="965" height="571"/>
<line x1="501" y1="24" x2="501" y2="595" stroke="#444"/>
<line x1="18" y1="346" x2="983" y2="346"/>
</g>

<g id="panel-labels">
<text class="pl" x="35" y="63">A</text>
<text class="pl" x="516" y="57">B</text>
<text class="pl" x="521" y="383">C</text>
</g>

<g id="legend">
<text x="28" y="377" font-size="24" fill="#111">Legend</text>
<text x="26" y="410" font-size="19" fill="#111">Classes</text>
<text class="lt" x="26" y="434" fill="#F5A31A">Acidobacteria (class)</text>
<text class="lt" x="26" y="458" fill="#CCEE00">Actinobacteria</text>
<text class="lt" x="26" y="482" fill="#BDBDBD">Alphaproteobacteria</text>
<text class="lt" x="26" y="505" fill="#808080">Betaproteobacteria</text>
<text class="lt" x="26" y="528" fill="#FF00EE">Chloracidobacteria</text>
<text class="lt" x="26" y="553" fill="#22EE22">DA052 (Acidobacteria)</text>
<text class="lt" x="26" y="576" fill="#555">Gammaproteobacteria</text>
<text class="lt" x="220" y="431" fill="#2AA8FF">Gemmatimonadetes</text>
<text class="lt" x="220" y="454" fill="#2200DD">Solibacteres</text>
<text class="lt" x="220" y="477" fill="#9922FF">Sphingobacteriia</text>
<text class="lt" x="220" y="501" fill="#FF2200">iii1-8 (Acidobacteria)</text>
<g id="legend-taxon"><rect x="274" y="522" width="47" height="26" rx="5" fill="#fff" stroke="#111" stroke-width="1.2"/><text x="350" y="542" font-size="20" fill="#111">Taxon node</text></g>
<g id="legend-ph"><ellipse cx="296" cy="572" rx="25" ry="12" fill="#fff" stroke="#111" stroke-width="1.2"/><text x="350" y="575" font-size="20" fill="#111">pH node</text></g>
</g>
</svg>
